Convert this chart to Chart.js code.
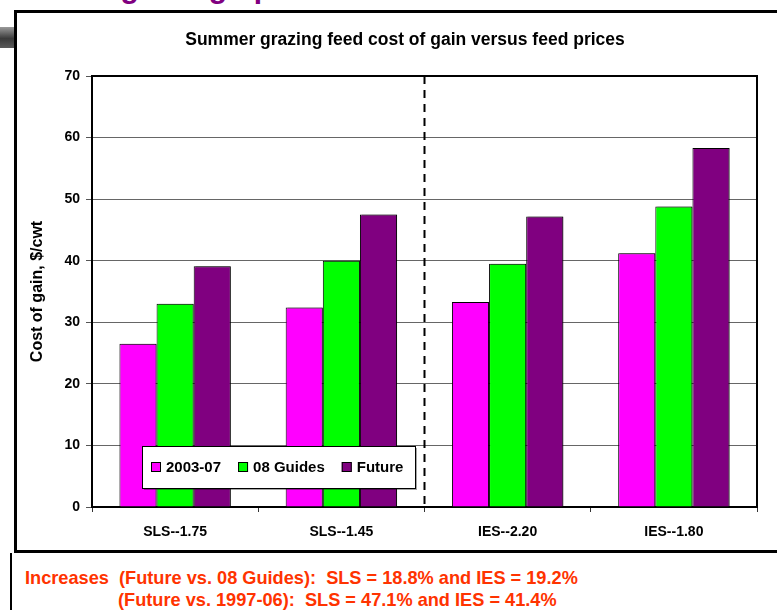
<!DOCTYPE html>
<html>
<head>
<meta charset="utf-8">
<script src="https://cdn.jsdelivr.net/npm/chart.js@4.4.1/dist/chart.umd.min.js"></script>
<style>
    html, body { margin: 0; padding: 0; background: #fff; width: 777px; height: 610px; overflow: hidden; }
    body { position: relative; font-family: Arial, "Liberation Sans", sans-serif; }
    #tituloSlide { position: absolute; left: -8px; top: -29px; font: bold 30px Arial, "Liberation Sans", sans-serif; color: #800080; white-space: nowrap; }
    #moldura { position: absolute; left: 14px; top: 10px; width: 800px; height: 543px; border: 3px solid #000; border-right: none; box-sizing: border-box; }
    #aba { position: absolute; left: 0; top: 27px; width: 14px; height: 21px; background: linear-gradient(to bottom, #9a9a9a, #3a3a3a 55%, #5a5a5a); }
    #linhaBaixo { position: absolute; left: 10px; top: 553px; width: 2px; height: 57px; background: #000; }
    #grafico { position: absolute; left: 0; top: 0; }
    #tituloGrafico { position: absolute; left: 0; top: 29px; width: 810px; text-align: center; font: bold 17.5px Arial, "Liberation Sans", sans-serif; color: #000; white-space: nowrap; }
    .nota { position: absolute; color: #ff3300; font: bold 19px "Liberation Sans Narrow", "Arial Narrow", Arial, sans-serif; white-space: pre; transform: scaleX(0.957); transform-origin: 0 0; }
</style>
</head>
<body>
<div id="tituloSlide">Summer grazing update</div>
<div id="moldura"></div>
<div id="aba"></div>
<div id="linhaBaixo"></div>
<canvas id="grafico" width="777" height="552"></canvas>
<div id="tituloGrafico">Summer grazing feed cost of gain versus feed prices</div>
<div class="nota" style="left:25px; top:567px;">Increases  (Future vs. 08 Guides):  SLS = 18.8% and IES = 19.2%</div>
<div class="nota" style="left:118px; top:589px;">(Future vs. 1997-06):  SLS = 47.1% and IES = 41.4%</div>

<script>
// dados do grafico
var categorias = ['SLS--1.75', 'SLS--1.45', 'IES--2.20', 'IES--1.80'];
var custo2003 = [26.5, 32.4, 33.3, 41.2];
var custoGuias = [33.0, 40.0, 39.5, 48.8];
var custoFuturo = [39.1, 47.5, 47.2, 58.3];
var nomesSeries = ['2003-07', '08 Guides', 'Future'];
var coresSeries = ['#FF00FF', '#00FF00', '#800080'];
var ticksY = [0, 10, 20, 30, 40, 50, 60, 70];

var fonte = 'Arial, "Liberation Sans", sans-serif';

// sombra cinza nas barras
var sombraBarras = {
    id: 'sombraBarras',
    beforeDatasetsDraw: function(chart) {
        var ctx = chart.ctx;
        ctx.save();
        ctx.shadowColor = 'rgba(0, 0, 0, 0.4)';
        ctx.shadowOffsetX = 2;
        ctx.shadowOffsetY = 0;
        ctx.shadowBlur = 0;
    },
    afterDatasetsDraw: function(chart) {
        chart.ctx.restore();
    }
};

// borda da area, linha tracejada e legenda
var extras = {
    id: 'extras',
    afterDraw: function(chart) {
        var ctx = chart.ctx;
        var area = chart.chartArea;
        var x = chart.scales.x;

        ctx.save();
        ctx.strokeStyle = '#000';
        ctx.lineWidth = 2;
        ctx.beginPath();
        ctx.moveTo(area.left, area.top);
        ctx.lineTo(area.right, area.top);
        ctx.lineTo(area.right, area.bottom);
        ctx.stroke();

        // divisoria entre SLS e IES
        var meio = (x.getPixelForValue(1) + x.getPixelForValue(2)) / 2;
        ctx.setLineDash([8, 6]);
        ctx.beginPath();
        ctx.moveTo(meio, area.top);
        ctx.lineTo(meio, area.bottom);
        ctx.stroke();
        ctx.setLineDash([]);

        // legenda
        var bx = area.left + 50, by = area.bottom - 61, bw = 273, bh = 42;
        ctx.fillStyle = 'rgba(0,0,0,0.35)';
        ctx.fillRect(bx + 2, by + 2, bw, bh);
        ctx.fillStyle = '#fff';
        ctx.fillRect(bx, by, bw, bh);
        ctx.lineWidth = 1;
        ctx.strokeStyle = '#000';
        ctx.strokeRect(bx + 0.5, by + 0.5, bw, bh);

        ctx.font = 'bold 15px ' + fonte;
        ctx.textBaseline = 'middle';
        var px = bx + 9;
        var cy = by + bh / 2;
        chart.data.datasets.forEach(function(ds) {
            ctx.fillStyle = ds.backgroundColor;
            ctx.fillRect(px, cy - 5, 10, 10);
            ctx.strokeRect(px + 0.5, cy - 4.5, 9, 9);
            ctx.fillStyle = '#000';
            ctx.fillText(ds.label, px + 15, cy + 1);
            px += 15 + ctx.measureText(ds.label).width + 17;
        });
        ctx.restore();
    }
};

var ctx = document.getElementById('grafico').getContext('2d');

new Chart(ctx, {
    type: 'bar',
    data: {
        labels: categorias,
        datasets: [
            { label: nomesSeries[0], data: custo2003, backgroundColor: coresSeries[0] },
            { label: nomesSeries[1], data: custoGuias, backgroundColor: coresSeries[1] },
            { label: nomesSeries[2], data: custoFuturo, backgroundColor: coresSeries[2] }
        ].map(function(d) {
            d.borderColor = '#000';
            d.borderWidth = 1;
            d.barPercentage = 1;
            d.categoryPercentage = 0.67;
            return d;
        })
    },
    options: {
        responsive: false,
        animation: false,
        layout: {
            padding: { left: 24, top: 76, right: 20, bottom: 15 }
        },
        plugins: {
            legend: { display: false },
            tooltip: { enabled: false },
            title: { display: false }
        },
        scales: {
            x: {
                afterFit: function(scale) { scale.height = 30; },
                grid: {
                    drawOnChartArea: false,
                    tickLength: 5,
                    tickColor: '#333',
                    offset: true
                },
                border: { color: '#000', width: 2 },
                ticks: {
                    color: '#000',
                    padding: 12,
                    font: { family: fonte, size: 14, weight: 'bold' }
                }
            },
            y: {
                min: 0,
                max: 70,
                afterFit: function(scale) { scale.width = 68; },
                afterBuildTicks: function(scale) {
                    scale.ticks = ticksY.map(function(v) { return { value: v }; });
                },
                grid: {
                    color: '#666',
                    lineWidth: 1,
                    tickLength: 6,
                    tickColor: '#555'
                },
                border: { color: '#000', width: 2 },
                ticks: {
                    color: '#000',
                    padding: 6,
                    font: { family: fonte, size: 14, weight: 'bold' }
                },
                title: {
                    display: true,
                    text: 'Cost of gain, $/cwt',
                    color: '#000',
                    font: { family: fonte, size: 16, weight: 'bold' },
                    padding: { top: 4, bottom: 4 }
                }
            }
        }
    },
    plugins: [sombraBarras, extras]
});
</script>
</body>
</html>
